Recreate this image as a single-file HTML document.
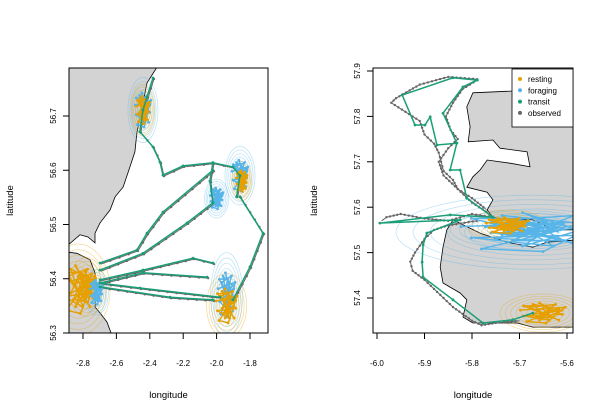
<!DOCTYPE html>
<html><head><meta charset="utf-8"><style>
body{margin:0;background:#fff}
svg{display:block;font-family:"Liberation Sans",Arial,sans-serif}
</style></head><body>
<svg id="chart" width="609" height="420" viewBox="0 0 609 420"></svg>
<script>
// ---- data (lon/lat) ----
const leftLonTicks=[-2.8,-2.6,-2.4,-2.2,-2.0,-1.8];
const leftLatTicks=[56.3,56.4,56.5,56.6,56.7];
const rightLonTicks=[-6.0,-5.9,-5.8,-5.7,-5.6];
const rightLatTicks=[57.4,57.5,57.6,57.7,57.8,57.9];
const legendLabels=["resting","foraging","transit","observed"];
const leftLand1=[[-2.357,56.79],[-2.417,56.761],[-2.441,56.724],[-2.477,56.669],[-2.489,56.634],[-2.519,56.606],[-2.56,56.569],[-2.608,56.551],[-2.638,56.527],[-2.698,56.503],[-2.728,56.484],[-2.728,56.466],[-2.77,56.477],[-2.818,56.481],[-2.89,56.462],[-2.89,56.79]];
const leftLand2=[[-2.89,56.449],[-2.836,56.447],[-2.758,56.435],[-2.728,56.411],[-2.716,56.374],[-2.728,56.348],[-2.698,56.337],[-2.656,56.32],[-2.62,56.29],[-2.89,56.29]];
const rightLand=[[-5.58,57.852],[-5.672,57.858],[-5.798,57.852],[-5.811,57.821],[-5.804,57.777],[-5.808,57.744],[-5.756,57.748],[-5.741,57.73],[-5.684,57.722],[-5.678,57.689],[-5.72,57.697],[-5.768,57.704],[-5.783,57.682],[-5.798,57.667],[-5.811,57.644],[-5.768,57.633],[-5.756,57.616],[-5.768,57.594],[-5.756,57.578],[-5.726,57.572],[-5.672,57.572],[-5.629,57.55],[-5.58,57.55],[-5.58,57.528],[-5.642,57.523],[-5.672,57.512],[-5.726,57.523],[-5.783,57.543],[-5.84,57.572],[-5.853,57.55],[-5.861,57.512],[-5.867,57.468],[-5.861,57.433],[-5.825,57.411],[-5.811,57.396],[-5.819,57.358],[-5.798,57.345],[-5.705,57.345],[-5.672,57.336],[-5.58,57.336]];
const rightIsland=[[-5.64,57.818],[-5.61,57.82],[-5.6,57.814],[-5.63,57.812]];
const leftTransit=[
[[-2.381,56.77],[-2.417,56.735],[-2.441,56.711],[-2.459,56.671],[-2.381,56.643],[-2.339,56.615],[-2.321,56.591],[-2.201,56.608],[-2.022,56.614],[-1.902,56.606],[-1.86,56.59]],
[[-2.022,56.6],[-2.321,56.523],[-2.417,56.484],[-2.477,56.453],[-2.698,56.429]],
[[-2.022,56.54],[-2.177,56.503],[-2.441,56.447],[-2.698,56.416]],
[[-1.86,56.551],[-1.722,56.484],[-1.8,56.422],[-1.902,56.361]],
[[-2.022,56.429],[-2.141,56.438],[-2.441,56.416],[-2.698,56.398]],
[[-2.057,56.403],[-2.441,56.411],[-2.698,56.392]],
[[-1.98,56.366],[-2.459,56.383],[-2.698,56.392]],
[[-2.022,56.361],[-2.279,56.366],[-2.698,56.385]],
[[-2.022,56.614],[-2.04,56.58],[-2.022,56.54]],
[[-1.86,56.59],[-1.88,56.551]]];
const rightTransit=[
[[-5.789,57.88],[-5.84,57.885],[-5.947,57.847],[-5.92,57.781],[-5.899,57.781],[-5.888,57.799],[-5.874,57.737],[-5.832,57.741],[-5.861,57.807],[-5.819,57.865],[-5.789,57.88]],
[[-5.832,57.741],[-5.846,57.682],[-5.825,57.682],[-5.811,57.62],[-5.756,57.578]],
[[-5.756,57.578],[-5.846,57.583],[-5.994,57.565],[-5.825,57.572],[-5.895,57.543],[-5.903,57.517],[-5.905,57.479],[-5.903,57.446],[-5.84,57.396],[-5.777,57.345],[-5.714,57.352],[-5.672,57.367]]];
const rightObserved=[
[[-5.789,57.882],[-5.85,57.887],[-5.91,57.87],[-5.96,57.84],[-5.97,57.83],[-5.94,57.81],[-5.91,57.79],[-5.9,57.76],[-5.88,57.74],[-5.87,57.72],[-5.865,57.7],[-5.86,57.68],[-5.84,57.66],[-5.83,57.64],[-5.8,57.61],[-5.77,57.59],[-5.756,57.578]],
[[-5.789,57.88],[-5.82,57.86],[-5.84,57.83],[-5.855,57.8],[-5.845,57.77],[-5.83,57.75],[-5.85,57.73],[-5.87,57.7],[-5.86,57.67],[-5.83,57.64],[-5.8,57.62],[-5.77,57.595]],
[[-5.756,57.578],[-5.8,57.585],[-5.85,57.57],[-5.9,57.575],[-5.95,57.585],[-5.98,57.578],[-5.99,57.57]],
[[-5.79,57.57],[-5.85,57.56],[-5.88,57.55],[-5.9,57.53],[-5.92,57.5],[-5.93,57.48],[-5.925,57.46],[-5.9,57.44],[-5.88,57.42],[-5.86,57.4],[-5.84,57.38],[-5.82,57.365],[-5.8,57.35],[-5.78,57.34],[-5.75,57.345],[-5.7,57.35]]];
// clusters: [lon, lat, rxDeg, ryDeg, type]
const leftClusters=[[-2.441,56.711,0.075,0.05,"f"],[-2.441,56.711,0.06,0.04,"r"],[-1.86,56.59,0.075,0.045,"f"],[-1.85,56.58,0.05,0.03,"r"],[-2.0,56.548,0.06,0.03,"f"],[-1.94,56.37,0.08,0.065,"f"],[-1.94,56.35,0.1,0.05,"r"],[-2.83,56.38,0.16,0.07,"r"],[-2.78,56.385,0.09,0.045,"r"],[-2.72,56.375,0.06,0.035,"f"]];
const rightClusters=[[-5.672,57.545,0.24,0.068,"f"],[-5.69,57.55,0.13,0.035,"f"],[-5.726,57.56,0.07,0.028,"r"],[-5.651,57.367,0.075,0.035,"r"]];
const ringScale=[1.2,1.05,0.9,0.75,0.6,0.45];
const blob=[[0,0],[0.5,0.3],[-0.3,0.6],[0.2,-0.5],[-0.6,-0.2],[0.6,-0.1],[-0.1,0.7],[0.3,0.1],[-0.5,-0.6],[0.1,-0.7],[0.7,0.4],[-0.7,0.2],[0,0.3],[0.3,-0.3],[-0.2,-0.3],[0.4,0.6],[-0.4,0.4],[0.5,-0.5],[-0.6,0.5],[0.1,0.5],[-0.3,-0.1],[0.6,0.2],[-0.1,-0.5],[0.2,0.2]];

const C={r:"#E69F00",f:"#56B4E9",t:"#1B9E77",o:"#666666"};
const NS="http://www.w3.org/2000/svg";
const svg=document.getElementById("chart");
function mk(tag,at,parent){const e=document.createElementNS(NS,tag);for(const k in at)e.setAttribute(k,at[k]);(parent||svg).appendChild(e);return e;}

function panel(p){
  const g=mk("g",{});
  
  
  const sx=v=>p.x0+(v-p.lon0)*p.kx, sy=v=>p.y0-(v-p.lat0)*p.ky;
  const cid="clip"+p.name;
  const cp=mk("clipPath",{id:cid},g);mk("rect",{x:p.L,y:p.T,width:p.R-p.L,height:p.B-p.T},cp);
  const pg=mk("g",{"clip-path":"url(#"+cid+")"},g);
  const pts=a=>a.map(d=>sx(d[0]).toFixed(1)+","+sy(d[1]).toFixed(1)).join(" ");
  p.land.forEach(l=>{const e=mk("polygon",{points:pts(l),fill:"#d3d3d3",stroke:"#000","stroke-width":0.8},pg);
    });
  (p.islands||[]).forEach(l=>{const e=mk("polygon",{points:pts(l),fill:"#fff",stroke:"#000","stroke-width":0.8},pg);
    });
  p.clusters.forEach(c=>{ringScale.forEach(s=>{const e=mk("ellipse",{cx:sx(c[0]),cy:sy(c[1]),rx:c[2]*p.kx*s,ry:c[3]*p.ky*s,fill:"none",stroke:C[c[4]],"stroke-opacity":0.4,"stroke-width":0.7},pg);
    });});
  const obs=p.observed||p.transit;
  obs.forEach((t,i)=>{const off=p.observed?0:1;
    const e=mk("polyline",{points:pts(t),fill:"none",stroke:C.o,"stroke-width":1,transform:"translate("+off+","+off+")"},pg);
    
    for(let k=0;k<t.length-1;k++){const x1=sx(t[k][0]),y1=sy(t[k][1]),x2=sx(t[k+1][0]),y2=sy(t[k+1][1]);
      const n=Math.max(1,Math.round(Math.hypot(x2-x1,y2-y1)/(p.observed?4:9)));
      for(let j=0;j<n;j++){const d=mk("circle",{cx:x1+(x2-x1)*j/n+off,cy:y1+(y2-y1)*j/n+off,r:1.2,fill:C.o},pg);
        }}});
  p.clusters.forEach(c=>{const q=blob.map(b=>[c[0]+b[0]*c[2]*0.9,c[1]+b[1]*c[3]*0.9]);
    const e=mk("polyline",{points:pts(q),fill:"none",stroke:C[c[4]],"stroke-width":1.4},pg);
    
    q.forEach(d=>{const m=mk("circle",{cx:sx(d[0]),cy:sy(d[1]),r:1.4,fill:C[c[4]]},pg);
      });});
  p.transit.forEach(t=>{const e=mk("polyline",{points:pts(t),fill:"none",stroke:C.t,"stroke-width":1.5},pg);
    
    t.forEach(d=>{const m=mk("circle",{cx:sx(d[0]),cy:sy(d[1]),r:1.4,fill:C.t},pg);
      });});
  const box=mk("rect",{x:p.L,y:p.T,width:p.R-p.L,height:p.B-p.T,fill:"none",stroke:"#000","stroke-width":1},g);
  
  p.lonTicks.forEach(v=>{const x=sx(v);mk("line",{x1:x,x2:x,y1:p.B,y2:p.B+6,stroke:"#000"},g);
    const t=mk("text",{x:x,y:p.B+33,"font-size":8,"text-anchor":"middle"},g);t.textContent=v.toFixed(1);
    });
  p.latTicks.forEach(v=>{const y=sy(v);mk("line",{x1:p.L,x2:p.L-6,y1:y,y2:y,stroke:"#000"},g);
    const t=mk("text",{x:p.L-13,y:y,"font-size":8,"text-anchor":"middle",transform:"rotate(-90 "+(p.L-13)+" "+y+")"},g);t.textContent=v.toFixed(1);
    });
  const xt=mk("text",{x:(p.L+p.R)/2,y:398,"font-size":9.5,"text-anchor":"middle"},g);xt.textContent="longitude";
  
  const yx=p.L-56,ym=(p.T+p.B)/2;
  const yt=mk("text",{x:yx,y:ym,"font-size":9.5,"text-anchor":"middle",transform:"rotate(-90 "+yx+" "+ym+")"},g);yt.textContent="latitude";
  
}
panel({name:"left-panel",L:69,R:268,T:68,B:333,x0:83,lon0:-2.8,kx:167,y0:333,lat0:56.3,ky:542.5,
  land:[leftLand1,leftLand2],clusters:leftClusters,transit:leftTransit,lonTicks:leftLonTicks,latTicks:leftLatTicks});
panel({name:"right-panel",L:373,R:573,T:68,B:333,x0:377,lon0:-6.0,kx:475,y0:71,lat0:57.9,ky:454,
  land:[rightLand],islands:[rightIsland],clusters:rightClusters,transit:rightTransit,observed:rightObserved,lonTicks:rightLonTicks,latTicks:rightLatTicks});
const lg=mk("g",{});


mk("rect",{x:512,y:69,width:61,height:58,fill:"#fff",stroke:"#000","stroke-width":0.8},lg);
const lc=[C.r,C.f,C.t,C.o];
legendLabels.forEach((s,i)=>{const y=82+i*11.3;
  const d=mk("circle",{cx:520,cy:y-3,r:2,fill:lc[i]},lg);
  
  const t=mk("text",{x:528,y:y,"font-size":8},lg);t.textContent=s;
  });
</script>
</body></html>
